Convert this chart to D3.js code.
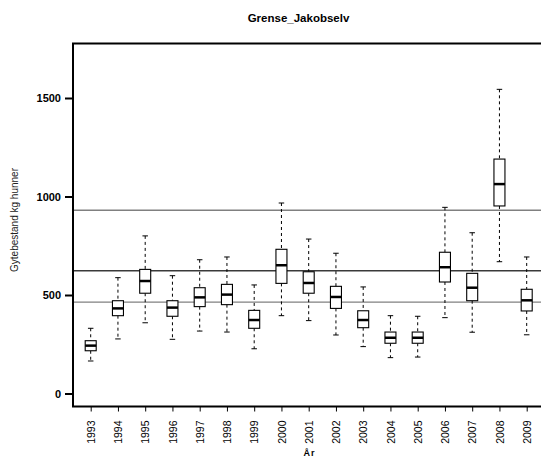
<!DOCTYPE html>
<html>
<head>
<meta charset="utf-8">
<script src="https://cdn.jsdelivr.net/npm/d3@7"></script>
<style>
  body { margin: 0; background: #fff; }
  svg { display: block; font-family: "Liberation Sans", Arial, sans-serif; }
</style>
</head>
<body>
<svg id="chart" width="541" height="459"></svg>
<script>
const years = ["1993","1994","1995","1996","1997","1998","1999","2000","2001","2002","2003","2004","2005","2006","2007","2008","2009"];
const whiskerLow  = [165, 277, 359, 275, 317, 312, 227, 395, 370, 297, 238, 182, 185, 385, 311, 669, 298];
const boxLow      = [217, 395, 509, 392, 441, 451, 331, 559, 509, 432, 334, 255, 255, 566, 471, 952, 419];
const medians     = [243, 432, 571, 436, 488, 502, 373, 651, 561, 490, 373, 283, 283, 641, 537, 1063, 473];
const boxHigh     = [268, 471, 630, 471, 537, 554, 422, 732, 618, 544, 420, 312, 312, 717, 610, 1190, 529];
const whiskerHigh = [331, 588, 800, 598, 679, 693, 551, 967, 784, 712, 541, 395, 392, 945, 816, 1544, 693];
const refValues   = [930, 623, 464];
const refColors   = ["#808080", "#3a3a3a", "#808080"];
const yTicks      = [0, 500, 1000, 1500];

const svg = d3.select("#chart");
const plot = { left: 73, top: 43.5, right: 546, bottom: 406.5 };

const x = d3.scalePoint().domain(years).range([90.7, 526.7]);
const y = d3.scaleLinear().domain([0, 1500]).range([393.5, 98]);

const data = years.map((yr, i) => ({
  yr, wl: whiskerLow[i], bl: boxLow[i], med: medians[i], bh: boxHigh[i], wh: whiskerHigh[i]
}));

// reference lines
svg.selectAll("line.ref").data(refValues).enter().append("line")
  .attr("class", "ref")
  .attr("x1", plot.left).attr("x2", plot.right)
  .attr("y1", d => y(d)).attr("y2", d => y(d))
  .attr("stroke", (d, i) => refColors[i]).attr("stroke-width", 1.4);

const boxW = 11, capW = 5.5;
const g = svg.selectAll("g.box").data(data).enter().append("g").attr("class", "box");

// whiskers (dashed)
g.append("line").attr("x1", d => x(d.yr)).attr("x2", d => x(d.yr))
  .attr("y1", d => y(d.wh)).attr("y2", d => y(d.bh))
  .attr("stroke", "#000").attr("stroke-width", 1).attr("stroke-dasharray", "3,3");
g.append("line").attr("x1", d => x(d.yr)).attr("x2", d => x(d.yr))
  .attr("y1", d => y(d.bl)).attr("y2", d => y(d.wl))
  .attr("stroke", "#000").attr("stroke-width", 1).attr("stroke-dasharray", "3,3");
// caps
g.append("line").attr("x1", d => x(d.yr) - capW / 2).attr("x2", d => x(d.yr) + capW / 2)
  .attr("y1", d => y(d.wh)).attr("y2", d => y(d.wh)).attr("stroke", "#000").attr("stroke-width", 1);
g.append("line").attr("x1", d => x(d.yr) - capW / 2).attr("x2", d => x(d.yr) + capW / 2)
  .attr("y1", d => y(d.wl)).attr("y2", d => y(d.wl)).attr("stroke", "#000").attr("stroke-width", 1);
// box
g.append("rect").attr("x", d => x(d.yr) - boxW / 2).attr("width", boxW)
  .attr("y", d => y(d.bh)).attr("height", d => y(d.bl) - y(d.bh))
  .attr("fill", "#fff").attr("stroke", "#000").attr("stroke-width", 1.1);
// median
g.append("line").attr("x1", d => x(d.yr) - boxW / 2).attr("x2", d => x(d.yr) + boxW / 2)
  .attr("y1", d => y(d.med)).attr("y2", d => y(d.med))
  .attr("stroke", "#000").attr("stroke-width", 2.5);

// frame (left, top, bottom)
svg.append("path")
  .attr("d", `M${plot.right},${plot.top}H${plot.left}V${plot.bottom}H${plot.right}`)
  .attr("fill", "none").attr("stroke", "#000").attr("stroke-width", 2);

// y axis
const yAxis = d3.axisLeft(y).tickValues(yTicks).tickSize(8).tickPadding(4).tickFormat(d3.format("d"));
const ya = svg.append("g").attr("transform", `translate(${plot.left},0)`).call(yAxis);
ya.select(".domain").remove();
ya.selectAll(".tick line").attr("stroke", "#000").attr("stroke-width", 2);
ya.selectAll(".tick text").attr("font-size", 11).attr("font-weight", "bold").attr("fill", "#000")
  .attr("font-family", "Liberation Sans, Arial, sans-serif");

// x axis
const xAxis = d3.axisBottom(x).tickSize(5).tickPadding(0);
const xa = svg.append("g").attr("transform", `translate(0,${plot.bottom})`).call(xAxis);
xa.select(".domain").remove();
xa.selectAll(".tick line").attr("stroke", "#000").attr("stroke-width", 1);
xa.selectAll(".tick text")
  .attr("font-size", 10.5).attr("fill", "#000").attr("font-family", "Liberation Sans, Arial, sans-serif")
  .attr("transform", "rotate(-90)")
  .attr("x", -14).attr("y", 0).attr("dy", "0.35em")
  .attr("text-anchor", "end");

// titles
svg.append("text").attr("x", 298.5).attr("y", 22).attr("text-anchor", "middle")
  .attr("font-size", 11.5).attr("font-weight", "bold").text("Grense_Jakobselv");
svg.append("text").attr("transform", "translate(18,220) rotate(-90)").attr("text-anchor", "middle")
  .attr("font-size", 10).attr("fill", "#222").text("Gytebestand kg hunner");
svg.append("text").attr("x", 309.5).attr("y", 456).attr("text-anchor", "middle")
  .attr("font-size", 9).attr("font-weight", "bold").attr("letter-spacing", 1).text("År");
</script>
</body>
</html>
